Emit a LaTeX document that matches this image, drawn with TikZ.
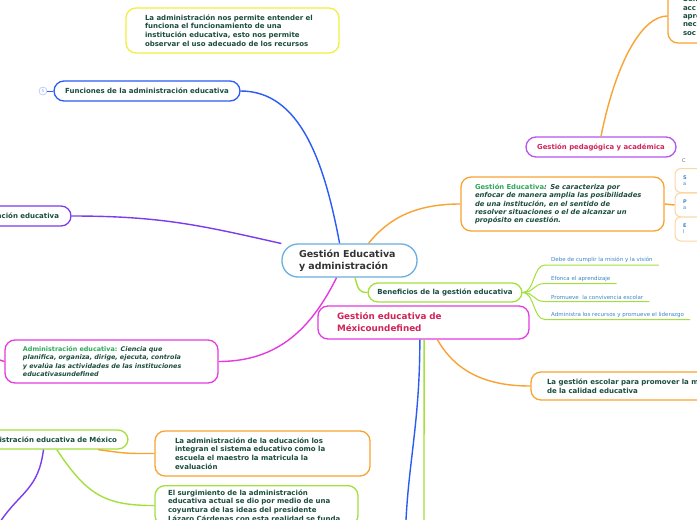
\documentclass[tikz,border=0pt]{standalone}
\usepackage{fontspec}
\setmainfont{DejaVu Sans}
\usetikzlibrary{positioning}
\definecolor{ink}{HTML}{1B4D3E}
\definecolor{tgreen}{HTML}{2EA85A}
\definecolor{crim}{HTML}{D0245A}
\definecolor{leafblue}{HTML}{3C86C6}
\definecolor{yel}{HTML}{F0F03C}
\definecolor{fblue}{HTML}{2B5BF5}
\definecolor{purp}{HTML}{7B3DEB}
\definecolor{cblue}{HTML}{6BAEE0}
\definecolor{orng}{HTML}{F9A332}
\definecolor{lgreen}{HTML}{A3E03C}
\definecolor{magen}{HTML}{E43BE0}
\definecolor{ppurp}{HTML}{B653F0}

\begin{document}
\begin{tikzpicture}[x=1pt,y=-1pt,
 topic/.style={draw=#1,line width=1.3pt,rounded corners=10pt,fill=white,inner sep=0pt,font=\fontsize{7}{8.7}\selectfont\bfseries,text=ink},
 sub/.style={draw=orng!45,line width=1pt,rounded corners=6pt,fill=white,minimum width=50pt,minimum height=24pt,text width=34pt,align=left,inner sep=0pt,font=\fontsize{5}{6}\selectfont,text=leafblue},
 link/.style={draw=#1,line width=1.4pt},
 leaf/.style={font=\fontsize{5.5}{6.5}\selectfont,text=leafblue,inner xsep=6pt,inner ysep=2pt,anchor=south west}]
 \useasboundingbox (0,0) rectangle (697,520);
 \clip (0,0) rectangle (697,520);
 \fill[white] (0,0) rectangle (697,520);

 \node[topic=yel,minimum width=213pt,minimum height=45pt,text width=175pt,align=left] (nota) at (232.5,30.5) {La administración nos permite entender el\\funciona el funcionamiento de una\\institución educativa, esto nos permite\\observar el uso adecuado de los recursos};
 \node[topic=fblue,minimum width=186pt,minimum height=20pt] (funciones) at (147,91) {Funciones de la administración educativa};
 \node[draw=fblue!50,circle,fill=white,minimum size=8pt,inner sep=0pt,font=\fontsize{4}{4}\selectfont,text=fblue!60] (cinco) at (43,91) {5};
 \node[topic=purp,minimum width=150pt,minimum height=20pt,text width=126pt,align=right] (planif) at (-4,216) {ación educativa};
 \node[topic=cblue,minimum width=135pt,minimum height=33pt,text width=101pt,align=left,rounded corners=16pt,font=\fontsize{9.5}{11.5}\selectfont\bfseries,text=black!80] (centro) at (349.5,260.5) {Gestión Educativa\\y administración};
 \node[topic=orng,minimum width=203pt,minimum height=54pt,text width=175pt,align=left,font=\fontsize{6.8}{8.3}\selectfont\bfseries\itshape] (gedu) at (562.5,204) {\textcolor{tgreen}{\upshape Gestión Educativa}: Se caracteriza por\\enfocar de manera amplia las posibilidades\\de una institución, en el sentido de\\resolver situaciones o el de alcanzar un\\propósito en cuestión.};
 \node[anchor=west,inner sep=0pt,font=\fontsize{5}{6}\selectfont,text=black!60] (c0) at (682,161) {C};
 \node[sub] (s1) at (700,180.5) {\textbf{S}\\a};
 \node[sub] (s2) at (700,205) {\textbf{P}\\a};
 \node[sub] (s3) at (700,229) {\textbf{E}\\l};
 \node[topic=ppurp,minimum width=150pt,minimum height=20pt,text=crim,font=\fontsize{6.9}{8}\selectfont\bfseries] (pedag) at (601,147) {Gestión pedagógica y académica};
 \node[topic=orng,minimum width=80pt,minimum height=54pt,text width=50pt,align=left,font=\fontsize{7}{8.3}\selectfont\bfseries] (sent) at (708,16) {Sen\\acc\\apre\\nec\\soc};
 \node[topic=lgreen,minimum width=154pt,minimum height=19pt] (benef) at (445,292.5) {Beneficios de la gestión educativa};
 \node[leaf] (b1) at (545,265) {Debe de cumplir la misión y la visión};
 \node[leaf] (b2) at (545,283.5) {Efonca el aprendizaje};
 \node[leaf] (b3) at (545,301.5) {Promueve\ \ la convivencia escolar};
 \node[leaf] (b4) at (545,319.5) {Administra los recursos y promueve el liderazgo};
 \node[topic=magen,minimum width=211pt,minimum height=33pt,text width=173pt,align=left,text=crim,font=\fontsize{8.8}{12}\selectfont\bfseries] (gmex) at (423.5,322.5) {Gestión educativa de\\Méxicoundefined};
 \node[topic=orng,minimum width=229pt,minimum height=28pt,text width=197pt,align=left,font=\fontsize{7}{9}\selectfont\bfseries] (gescolar) at (645.5,386) {La gestión escolar para promover la m\\de la calidad educativa};
 \node[topic=magen,minimum width=213pt,minimum height=43pt,text width=177pt,align=left,font=\fontsize{6.4}{8.3}\selectfont\bfseries\itshape] (admin) at (111.5,361.5) {\textcolor{tgreen}{\upshape Administración educativa:} Ciencia que\\planifica, organiza, dirige, ejecuta, controla\\y evalúa las actividades de las instituciones\\educativasundefined};
 \node[topic=lgreen,minimum width=188pt,minimum height=19pt,text width=166pt,align=right] (mex2) at (34,439.5) {istración educativa de México};
 \node[topic=orng,minimum width=215pt,minimum height=45pt,text width=175pt,align=left] (admedu) at (262.5,453.5) {La administración de la educación los\\integran el sistema educativo como la\\escuela el maestro la matricula la\\evaluación};
 \node[topic=lgreen,minimum width=203pt,text width=177pt,inner ysep=4pt,anchor=north,align=left] (surg) at (256.5,485) {El surgimiento de la administración\\educativa actual se dio por medio de una\\coyuntura de las ideas del presidente\\Lázaro Cárdenas con esta realidad se funda};

 \coordinate (izq) at (0,360);
 \coordinate (azul) at (406,520);
 \coordinate (verde) at (424,520);
 \coordinate (morado) at (0,522);

 \draw[link=fblue,line width=.8pt] (cinco) -- (funciones);
 \draw[link=fblue] (funciones.east) .. controls +(60,0) and +(-15,-80) .. (centro.120);
 \draw[link=purp] (planif.east) .. controls +(90,0) and +(-80,-18) .. (centro.166);
 \draw[link=orng] (centro.42) .. controls +(20,-25) and +(-45,0) .. (gedu.west);
 \draw[link=orng] (gedu.east) -- (s2.west);
 \foreach \s in {s1,s2,s3} \draw[orng,line width=1.6pt] (\s.south east) ++(-10,0) -- ++(10,0);
 \draw[link=orng] (pedag.north) .. controls +(15,-75) and +(-25,0) .. (sent.west);
 \draw[link=lgreen] (centro.-72) .. controls +(3,12) and +(-8,0) .. (benef.west);
 \foreach \b in {b1,b2,b3,b4} \draw[link=lgreen,line width=1pt] (benef.east) .. controls +(12,0) and +(-12,0) .. (\b.south west) -- (\b.south east);
 \draw[link=magen] (centro.-127) .. controls +(-25,50) and +(60,0) .. (admin.east);
 \draw[link=magen] (admin.west) -- (izq);
 \draw[link=fblue] (gmex.-102) .. controls +(0,80) and +(3,-60) .. (azul);
 \draw[link=lgreen] (gmex.-88) -- (verde);
 \draw[link=orng] (gmex.-51) .. controls +(20,35) and +(-40,0) .. (gescolar.west);
 \draw[link=orng] (mex2.-9) .. controls +(30,4) and +(-30,0) .. (admedu.west);
 \draw[link=lgreen] (mex2.-24) .. controls +(30,45) and +(-50,0) .. (surg.west);
 \draw[link=purp] (mex2.-47) .. controls +(-5,40) and +(20,-30) .. (morado);
\end{tikzpicture}
\end{document}
